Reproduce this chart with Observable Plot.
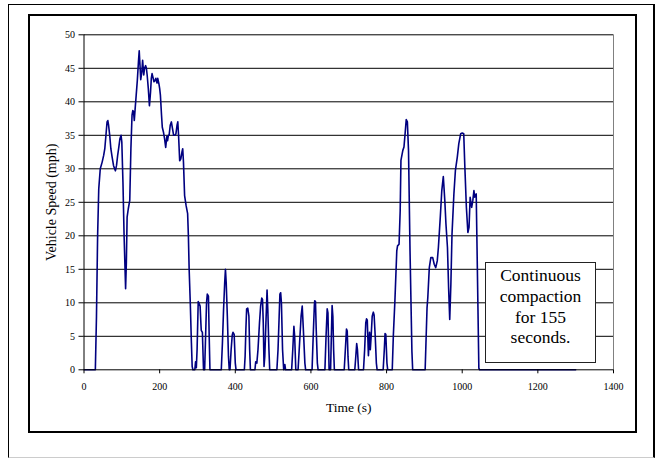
<!DOCTYPE html>
<html>
<head>
<meta charset="utf-8">
<script src="https://cdn.jsdelivr.net/npm/d3@7"></script>
<script src="https://cdn.jsdelivr.net/npm/@observablehq/plot@0.6"></script>
<style>
  html, body { margin: 0; padding: 0; background: #fff; font-family: "Liberation Serif", serif; }
  #page { position: relative; width: 658px; height: 459px; overflow: hidden; }
  #sheet { position: absolute; left: 8px; top: 4px; width: 647px; height: 454px; box-sizing: border-box;
           border-left: 1px solid #000; border-top: 1px solid #000; border-right: 2px solid #000; border-bottom: 1px solid #ccc; }
  #frame { position: absolute; left: 28px; top: 14px; width: 609px; height: 419px; box-sizing: border-box; border: 2px solid #000; }
  #chart { position: absolute; left: 0; top: 0; }
  #note { position: absolute; left: 485px; top: 262px; width: 111px; height: 101px; box-sizing: border-box;
          border: 1px solid #222; background: #fff; text-align: center;
          font-family: "Liberation Serif", serif; font-size: 17.5px; line-height: 20.8px;
          padding-top: 2px; color: #000; }
</style>
</head>
<body>
<div id="page">
  <div id="sheet"></div>
  <div id="frame"></div>
  <div id="chart"></div>
  <div id="note">Continuous<br>compaction<br>for 155<br>seconds.</div>
</div>
<script>
// Elapsed time (s) and measured vehicle speed (mph)
const time = [
  0, 30, 33, 36, 39, 43, 48, 52, 55, 58, 61, 63, 65, 68, 71, 74.5, 78, 81, 83, 86, 89, 92, 95, 98, 100,
  103, 106, 110, 112, 114, 117, 121, 124, 127, 129, 131, 133, 135, 138, 141, 144, 146, 148, 150, 153, 155,
  158, 160, 163, 165, 167, 170, 173, 176, 178, 180, 183, 185, 188, 190, 193, 195, 198, 200, 202, 205, 207,
  210, 213, 216, 219, 221, 223, 225, 228, 231, 234, 237, 240, 243, 246, 248, 250, 253, 256, 259, 261, 263,
  266, 270, 274, 276, 278, 281, 284, 286, 288,
  293, 295, 297, 299, 302, 305, 307, 309, 310, 313, 316, 319, 321, 324, 326, 329, 331, 333,
  363, 366, 369, 372, 374, 376, 379, 382, 384, 386, 389, 392, 394, 397, 400, 402,
  424, 426, 428, 430, 433, 436, 438, 440, 452, 454, 457, 460, 464, 467, 470, 472, 474, 476, 478, 481, 484,
  486, 489, 491, 510, 513, 516, 518, 520, 522, 525, 528, 531, 533, 549, 552, 555, 557, 560,
  566, 570, 574, 577, 580, 584, 586, 603, 606, 609, 610, 612, 614, 617, 619,
  637, 640, 643, 645, 647, 648, 652, 654, 656, 658, 660, 662,
  688, 691, 694, 696, 698, 700, 716, 718, 721, 723, 725, 726,
  739, 742, 745, 747, 749, 752, 755, 757, 759, 762, 765, 767, 770, 773, 775,
  791, 794, 796, 798, 801, 803, 815,
  818, 822, 827, 829, 833, 836, 838, 843, 846, 849, 852, 855, 858, 862, 867, 869,
  902, 907, 909, 913, 917, 922, 926, 930, 934, 937, 942, 946, 950, 954, 957, 961, 964, 967, 970,
  973, 978, 982, 987, 991, 996, 1000, 1004, 1007, 1011, 1015, 1018, 1021, 1025, 1028, 1031, 1033,
  1037, 1040, 1044, 1046, 1300
];
const speed = [
  0, 0, 8, 20, 27, 30, 31, 32, 33, 35, 37, 37.2, 36.5, 35, 33, 31.7, 30.5, 30, 29.7, 30.5, 32, 33.2, 34.5, 35, 34,
  28, 20, 12.1, 16, 22.8, 24, 25.3, 33, 38, 38.7, 38.5, 37.2, 38.8, 41, 43.2, 46, 47.6, 45.5, 43.3, 44.5, 46.2,
  44, 45, 45.4, 45, 44, 42, 39.4, 41.5, 43.5, 44.2, 43.5, 43, 43.2, 43.5, 42.8, 43.5, 42.7, 42, 41, 38, 36.2,
  35.5, 34.5, 33.2, 34.8, 34.2, 35, 35, 36.5, 37, 36, 35, 35, 35.2, 36.5, 37, 35, 31.2, 31.5, 32.5, 33, 31,
  26, 24.5, 23.3, 20, 15, 10, 4, 0.5, 0,
  0, 1.2, 0.3, 3, 10.2, 9.8, 9.5, 7, 5.9, 5.6, 0, 0, 4, 10, 11.3, 11, 5, 0,
  0, 4, 9, 13, 15, 13, 8, 2, 0, 0, 3, 5.2, 5.6, 5.3, 1, 0,
  0, 2, 6, 9.1, 9.2, 8, 3, 0, 0, 1.2, 1, 3, 7, 9.5, 10.7, 10.5, 7, 0.5, 2, 7, 11.9,
  9, 3, 0, 0, 3, 8, 11.3, 11.5, 10, 3, 0, 0.8, 0, 0, 3, 6.5, 5, 0,
  0, 4, 8, 9.5, 6, 1, 0, 0, 5, 9.5, 10.3, 10.2, 6, 1, 0,
  0, 5, 9.1, 8.5, 3, 0, 0, 5, 9.6, 8, 3, 0,
  0, 3, 6.1, 5.8, 2, 0, 0, 1.5, 3.9, 3, 1, 0,
  0, 3, 7, 7.6, 7.4, 2.1, 5.6, 3, 4.8, 8, 8.6, 8.2, 5, 1, 0,
  0, 3, 5.4, 5.3, 1, 0, 0,
  5.25, 10.25, 17.75, 18.5, 18.75, 23.75, 31.25, 32.75, 33.25, 35.25, 37.35, 37, 32.75, 17.75, 2.75, 0,
  0, 9.25, 10.75, 15.25, 16.75, 16.75, 15.75, 15.25, 16.25, 18.25, 22.75, 26.75, 28.85, 25.25, 21.75, 18.25, 12.25, 7.5, 12.75,
  20.25, 26.25, 29.75, 31.75, 33.75, 35.25, 35.35, 35.25, 30.25, 24.25, 20.5, 21.25, 25.75, 24.25, 25.25, 26.75, 25.75,
  26.25, 15.25, 0.25, 0, 0
];

// Axis ticks
const xTicks = [0, 200, 400, 600, 800, 1000, 1200, 1400];
const yTicks = [0, 5, 10, 15, 20, 25, 30, 35, 40, 45, 50];

const samples = time.map((t, i) => ({t, v: speed[i]}));

const chart = Plot.plot({
  width: 658,
  height: 459,
  marginLeft: 83.5,
  marginRight: 45,
  marginTop: 34.3,
  marginBottom: 89.7,
  style: {
    background: "transparent",
    fontFamily: "'Liberation Serif', serif",
    fontSize: "10px",
    color: "#000"
  },
  x: {domain: [0, 1400]},
  y: {domain: [0, 50]},
  marks: [
    Plot.ruleY(yTicks.filter(d => d > 0), {stroke: "#000", strokeWidth: 1}),
    Plot.ruleX([1400], {stroke: "#808080", strokeWidth: 1}),
    Plot.line(samples, {x: "t", y: "v", stroke: "#000080", strokeWidth: 1.6, strokeLinejoin: "round"}),
    Plot.ruleY([0], {stroke: "#000", strokeWidth: 1}),
    Plot.ruleX([0], {stroke: "#000", strokeWidth: 1}),
    Plot.axisX({ticks: xTicks, tickSize: 4, tickPadding: 9, tickFormat: d => String(d), label: null}),
    Plot.axisY({ticks: yTicks, tickSize: 5, tickPadding: 4, tickFormat: d => String(d), label: null}),
    Plot.text(["Time (s)"], {frameAnchor: "bottom", textAnchor: "middle", lineAnchor: "middle", dy: 37.5, fontSize: 13.5}),
    Plot.text(["Vehicle Speed (mph)"], {frameAnchor: "left", textAnchor: "middle", lineAnchor: "middle", dx: -32, rotate: -90, fontSize: 14})
  ]
});

document.getElementById("chart").appendChild(chart);
</script>
</body>
</html>
